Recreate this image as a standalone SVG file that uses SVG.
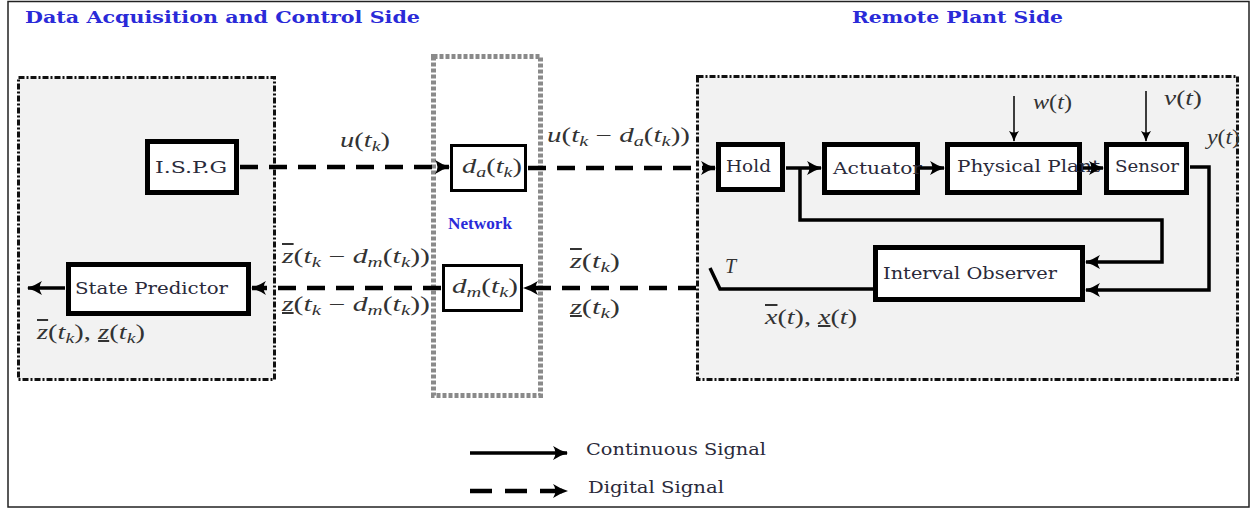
<svg xmlns="http://www.w3.org/2000/svg" width="1255" height="510" viewBox="0 0 1255 510">
<style>
.frame{fill:#fff;stroke:#222;stroke-width:1.5}
.region{fill:#f2f2f2;stroke:#111;stroke-width:3;stroke-dasharray:6 2 2 2}
.net{fill:none;stroke:#8a8a8a;stroke-width:5;stroke-dasharray:4 2}
.blk{fill:#fff;stroke:#000;stroke-width:5}
.blk3{fill:#fff;stroke:#000;stroke-width:3}
.lbl{font-family:"DejaVu Serif","Liberation Serif",serif;font-size:17px;fill:#2a2a3a}
.m{font-family:"Liberation Serif",serif;font-style:italic;font-size:20px;fill:#333}
.s{font-size:14px}
.r{font-style:normal}
.ov{text-decoration:overline}
.un{text-decoration:underline}
.title{font-family:"DejaVu Serif","Liberation Serif",serif;font-weight:bold;font-size:17px;fill:#2a2ad8}
.sol{fill:none;stroke:#000;stroke-width:3.5}
.thin{fill:none;stroke:#000;stroke-width:1.5}
.dash{fill:none;stroke:#000;stroke-width:4.5;stroke-dasharray:18 11}
</style>
<defs>
<marker id="ah" viewBox="0 0 14 14" refX="13" refY="7" markerWidth="15" markerHeight="15" markerUnits="userSpaceOnUse" orient="auto">
<path d="M0,0.5 Q6,4.5 14,7 Q6,9.5 0,13.5 Q4.5,7 0,0.5 Z" fill="#000"/>
</marker>
<marker id="ahs" viewBox="0 0 14 14" refX="13" refY="7" markerWidth="11" markerHeight="11" markerUnits="userSpaceOnUse" orient="auto">
<path d="M0,0.5 Q6,4.5 14,7 Q6,9.5 0,13.5 Q4.5,7 0,0.5 Z" fill="#000"/>
</marker>
</defs>
<rect class="frame" x="8" y="1.5" width="1241" height="505.5"/>
<text class="title" x="25" y="23" textLength="395" lengthAdjust="spacingAndGlyphs">Data Acquisition and Control Side</text>
<text class="title" x="852" y="23" textLength="211" lengthAdjust="spacingAndGlyphs">Remote Plant Side</text>

<g id="control-side"><rect class="region" x="18.5" y="77.5" width="256" height="302"/></g>
<g id="plant-side"><rect class="region" x="697.5" y="76.5" width="540" height="303"/></g>
<g id="network"><rect class="net" x="433.5" y="56.5" width="107" height="339"/>
<text x="448" y="229" font-family="Liberation Serif,serif" font-weight="bold" font-size="17" fill="#2a2ad8" textLength="64" lengthAdjust="spacingAndGlyphs">Network</text></g>

<g id="connectors">
<path class="dash" d="M240,167 H449" marker-end="url(#ah)"/>
<path class="dash" d="M528,168 H715" marker-end="url(#ah)"/>
<path class="dash" d="M696,288 H524" marker-end="url(#ah)"/>
<path class="dash" d="M441,288 H252" marker-end="url(#ah)"/>
<path class="sol" d="M65,288 H28" marker-end="url(#ah)"/>
<path class="sol" d="M786,168 H821" marker-end="url(#ah)"/>
<path class="sol" d="M800,168 V220 H1162 V262 H1086" marker-end="url(#ah)"/>
<path class="sol" d="M1190,167 H1209 V290 H1086" marker-end="url(#ah)"/>
<path class="sol" d="M873,289 H720 L710,268"/>
<path class="thin" d="M1014,96 V141" marker-end="url(#ahs)"/>
<path class="thin" d="M1146,91 V141" marker-end="url(#ahs)"/>
</g>

<g id="ispg"><rect class="blk" x="147.5" y="141.5" width="89" height="51"/><text class="lbl" x="155" y="173" textLength="72" lengthAdjust="spacingAndGlyphs">I.S.P.G</text></g>
<g id="state-predictor"><rect class="blk" x="68.5" y="264.5" width="180" height="49"/><text class="lbl" x="75" y="294" textLength="153" lengthAdjust="spacingAndGlyphs">State Predictor</text></g>
<g id="da"><rect class="blk3" x="451.5" y="145.5" width="74" height="45"/><text class="m" x="462" y="173" textLength="60" lengthAdjust="spacingAndGlyphs">d<tspan class="s" dy="4">a</tspan><tspan class="r" dy="-4">(</tspan>t<tspan class="s" dy="4">k</tspan><tspan class="r" dy="-4">)</tspan></text></g>
<g id="dm"><rect class="blk3" x="443.5" y="265.5" width="78" height="45"/><text class="m" x="452" y="293" textLength="66" lengthAdjust="spacingAndGlyphs">d<tspan class="s" dy="4">m</tspan><tspan class="r" dy="-4">(</tspan>t<tspan class="s" dy="4">k</tspan><tspan class="r" dy="-4">)</tspan></text></g>
<g id="hold"><rect class="blk" x="718.5" y="144.5" width="64" height="45"/><text class="lbl" x="726" y="172" textLength="45" lengthAdjust="spacingAndGlyphs">Hold</text></g>
<g id="actuator"><rect class="blk" x="824.5" y="144.5" width="93" height="48"/><text class="lbl" x="833" y="174" textLength="89" lengthAdjust="spacingAndGlyphs">Actuator</text></g>
<g id="physical-plant"><rect class="blk" x="947.5" y="144.5" width="132" height="48"/><text class="lbl" x="957" y="172" textLength="143" lengthAdjust="spacingAndGlyphs">Physical Plant</text></g>
<g id="sensor"><rect class="blk" x="1106.5" y="144.5" width="80" height="48"/><text class="lbl" x="1115" y="172" textLength="64" lengthAdjust="spacingAndGlyphs">Sensor</text></g>
<g id="interval-observer"><rect class="blk" x="875.5" y="247.5" width="207" height="52"/><text class="lbl" x="883" y="279" textLength="174" lengthAdjust="spacingAndGlyphs">Interval Observer</text></g>

<g id="arrow-fix">
<path class="sol" d="M920,168 H944" marker-end="url(#ah)"/>
<path class="sol" d="M1083,168 H1103" marker-end="url(#ah)"/>
</g>

<g id="labels">
<text class="m" x="340" y="147" textLength="50" lengthAdjust="spacingAndGlyphs">u<tspan class="r">(</tspan>t<tspan class="s" dy="4">k</tspan><tspan class="r" dy="-4">)</tspan></text>
<text class="m" x="547" y="142" textLength="143" lengthAdjust="spacingAndGlyphs">u<tspan class="r">(</tspan>t<tspan class="s" dy="4">k</tspan><tspan class="r" dy="-4"> − </tspan>d<tspan class="s" dy="4">a</tspan><tspan class="r" dy="-4">(</tspan>t<tspan class="s" dy="4">k</tspan><tspan class="r" dy="-4">))</tspan></text>
<text class="m" x="282" y="263" textLength="148" lengthAdjust="spacingAndGlyphs"><tspan class="ov">z</tspan><tspan class="r">(</tspan>t<tspan class="s" dy="4">k</tspan><tspan class="r" dy="-4"> − </tspan>d<tspan class="s" dy="4">m</tspan><tspan class="r" dy="-4">(</tspan>t<tspan class="s" dy="4">k</tspan><tspan class="r" dy="-4">))</tspan></text>
<text class="m" x="282" y="311" textLength="148" lengthAdjust="spacingAndGlyphs"><tspan class="un">z</tspan><tspan class="r">(</tspan>t<tspan class="s" dy="4">k</tspan><tspan class="r" dy="-4"> − </tspan>d<tspan class="s" dy="4">m</tspan><tspan class="r" dy="-4">(</tspan>t<tspan class="s" dy="4">k</tspan><tspan class="r" dy="-4">))</tspan></text>
<text class="m" x="570" y="268" textLength="50" lengthAdjust="spacingAndGlyphs"><tspan class="ov">z</tspan><tspan class="r">(</tspan>t<tspan class="s" dy="4">k</tspan><tspan class="r" dy="-4">)</tspan></text>
<text class="m" x="570" y="314" textLength="50" lengthAdjust="spacingAndGlyphs"><tspan class="un">z</tspan><tspan class="r">(</tspan>t<tspan class="s" dy="4">k</tspan><tspan class="r" dy="-4">)</tspan></text>
<text class="m" x="37" y="339" textLength="108" lengthAdjust="spacingAndGlyphs"><tspan class="ov">z</tspan><tspan class="r">(</tspan>t<tspan class="s" dy="4">k</tspan><tspan class="r" dy="-4">), </tspan><tspan class="un">z</tspan><tspan class="r">(</tspan>t<tspan class="s" dy="4">k</tspan><tspan class="r" dy="-4">)</tspan></text>
<text class="m" x="725" y="273">T</text>
<text class="m" x="765" y="324" textLength="92" lengthAdjust="spacingAndGlyphs"><tspan class="ov">x</tspan><tspan class="r">(</tspan>t<tspan class="r">), </tspan><tspan class="un">x</tspan><tspan class="r">(</tspan>t<tspan class="r">)</tspan></text>
<text class="m" x="1033" y="109" textLength="39" lengthAdjust="spacingAndGlyphs">w<tspan class="r">(</tspan>t<tspan class="r">)</tspan></text>
<text class="m" x="1164" y="105" textLength="38" lengthAdjust="spacingAndGlyphs">v<tspan class="r">(</tspan>t<tspan class="r">)</tspan></text>
<text class="m" x="1207" y="144" textLength="33" lengthAdjust="spacingAndGlyphs">y<tspan class="r">(</tspan>t<tspan class="r">)</tspan></text>
</g>

<g id="legend">
<path class="sol" d="M470,453 H567" marker-end="url(#ah)"/>
<path class="dash" d="M470,491 H567" style="stroke-dasharray:22 13" marker-end="url(#ah)"/>
<text class="lbl" x="586" y="455" textLength="180" lengthAdjust="spacingAndGlyphs">Continuous Signal</text>
<text class="lbl" x="588" y="493" textLength="136" lengthAdjust="spacingAndGlyphs">Digital Signal</text>
</g>
</svg>
